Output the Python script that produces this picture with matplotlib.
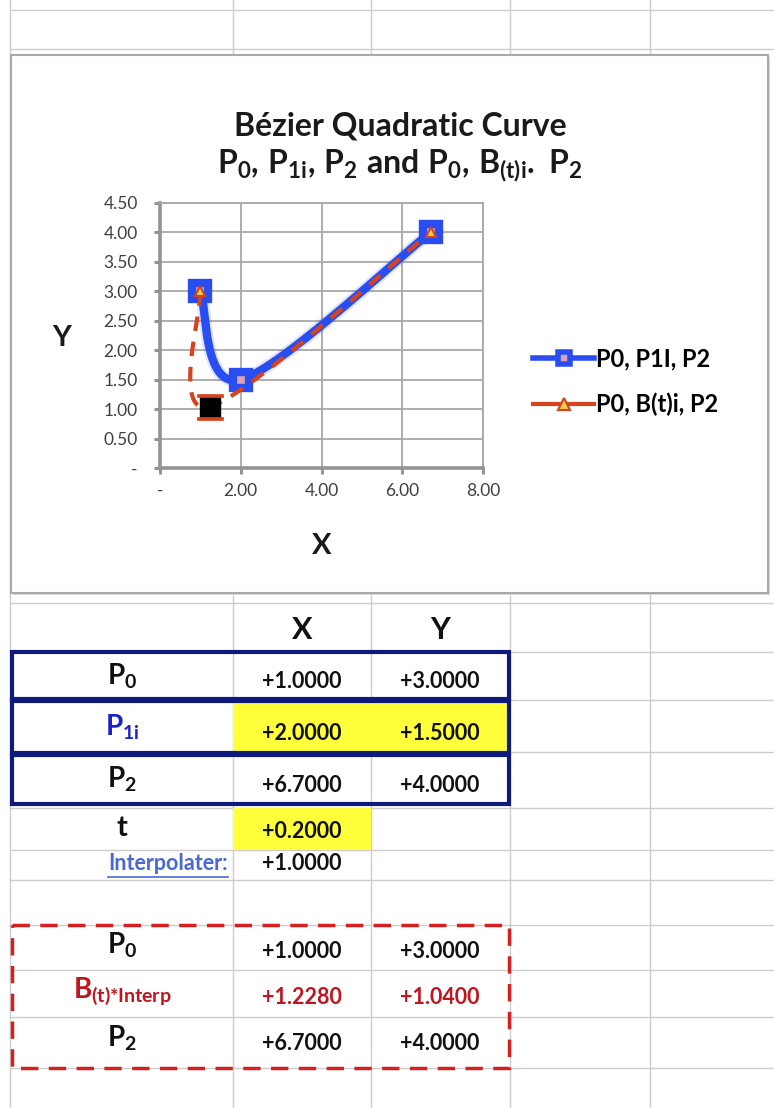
import matplotlib
matplotlib.use('Agg')
import matplotlib.pyplot as plt
from matplotlib.path import Path
from matplotlib.patches import Rectangle
from matplotlib.lines import Line2D
import numpy as np

plt.rcParams['font.family'] = ['Lato', 'DejaVu Sans']
plt.rcParams['mathtext.fontset'] = 'custom'
plt.rcParams['mathtext.rm'] = 'Lato:bold'
plt.rcParams['mathtext.bf'] = 'Lato:bold'
plt.rcParams['mathtext.it'] = 'Lato:bold'

# data
series_names = ['P0, P1I, P2', 'P0, B(t)i, P2']
control_x = [1.0, 2.0, 6.7]
control_y = [3.0, 1.5, 4.0]
bezier_x = [1.0, 1.228, 6.7]
bezier_y = [3.0, 1.04, 4.0]
t_value = 0.2
interpolater = 1.0

x_ticks = [0, 2, 4, 6, 8]
x_ticklabels = ['-', '2.00', '4.00', '6.00', '8.00']
y_ticks = [0, 0.5, 1.0, 1.5, 2.0, 2.5, 3.0, 3.5, 4.0, 4.5]
y_ticklabels = ['-', '0.50', '1.00', '1.50', '2.00', '2.50', '3.00', '3.50', '4.00', '4.50']

blue = '#2a4df2'
red = '#d6431c'
W, H = 774, 1108


def excel_smooth(xs, ys, n=80):
    # bezier smoothing like excel "smoothed line"
    p = np.column_stack([xs, ys])
    out = []
    for i in range(len(p) - 1):
        p0 = p[max(i - 1, 0)]
        p1 = p[i]
        p2 = p[i + 1]
        p3 = p[min(i + 2, len(p) - 1)]
        c1 = p1 + (p2 - p0) / 6
        c2 = p2 - (p3 - p1) / 6
        t = np.linspace(0, 1, n)[:, None]
        seg = (1 - t)**3 * p1 + 3 * (1 - t)**2 * t * c1 + 3 * (1 - t) * t**2 * c2 + t**3 * p2
        out.append(seg if i == 0 else seg[1:])
    return np.vstack(out)


fig = plt.figure(figsize=(W / 100, H / 100), dpi=100)
bg = fig.add_axes([0, 0, 1, 1])
bg.set_xlim(0, W)
bg.set_ylim(H, 0)
bg.axis('off')

# spreadsheet grid
grid_c = '#cccccc'
for gx in [10, 233, 371, 510, 650]:
    bg.plot([gx, gx], [0, H], color=grid_c, lw=1, zorder=1)
for gy in [10, 49, 603, 652, 700, 752, 808, 850, 880, 925, 970, 1017, 1068]:
    bg.plot([10, W], [gy, gy], color=grid_c, lw=1, zorder=1)

# chart box
bg.add_patch(Rectangle((13, 57), 757, 538, facecolor='#dddddd', edgecolor='none', zorder=4))
bg.add_patch(Rectangle((11, 55), 757, 538, facecolor='white', edgecolor='#a8a8a8', lw=1.5, zorder=5))

bg.text(400, 126, 'Bézier Quadratic Curve', ha='center', va='center', fontsize=23,
        fontweight='bold', color='#1a1a1a', zorder=6)
bg.text(400, 166, r'$\mathbf{P_0{,}\ P_{1i}{,}\ P_2\ and\ P_0{,}\ B_{(t)i}{.}\ P_2}$', ha='center',
        va='center', fontsize=23, color='#1a1a1a', zorder=6)
bg.text(62, 338, 'Y', ha='center', va='center', fontsize=21, fontweight='bold', color='#1a1a1a', zorder=6)
bg.text(322, 546, 'X', ha='center', va='center', fontsize=21, fontweight='bold', color='#1a1a1a', zorder=6)

# yellow cells
bg.add_patch(Rectangle((233, 700), 277, 52, facecolor='#ffff3c', edgecolor='none', zorder=2))
bg.add_patch(Rectangle((233, 808), 138, 42, facecolor='#ffff3c', edgecolor='none', zorder=2))

# blue boxes
navy = '#0f1a7d'
for top, h in [(652, 47), (701, 52), (755, 49)]:
    bg.add_patch(Rectangle((12, top), 497, h, fill=False, edgecolor=navy, lw=3, zorder=3))

# red dashed box
bg.add_patch(Rectangle((12, 925), 497, 143, fill=False, edgecolor='#d42020', lw=2.5,
                       linestyle=(0, (5, 3)), zorder=3))

col_lab, col_x, col_y = 122, 302, 440
bg.text(col_x, 630, 'X', ha='center', va='center', fontsize=22, fontweight='bold', color='#111111')
bg.text(col_y, 630, 'Y', ha='center', va='center', fontsize=22, fontweight='bold', color='#111111')

val_fs = 15.5
top_rows = [
    (r'$\mathbf{P_0}$', control_x[0], control_y[0], 679, '#111111', '#111111'),
    (r'$\mathbf{P_{1i}}$', control_x[1], control_y[1], 730, '#1a22c8', '#111111'),
    (r'$\mathbf{P_2}$', control_x[2], control_y[2], 782, '#111111', '#111111'),
]
bottom_rows = [
    (r'$\mathbf{P_0}$', bezier_x[0], bezier_y[0], 948, '#111111', '#111111'),
    (r'$\mathbf{B_{(t){*}Interp}}$', bezier_x[1], bezier_y[1], 995, '#c0141e', '#c0141e'),
    (r'$\mathbf{P_2}$', bezier_x[2], bezier_y[2], 1041, '#111111', '#111111'),
]
for lab, vx, vy, yy, lc, vc in top_rows + bottom_rows:
    bg.text(col_lab, yy - 3, lab, ha='center', va='center', fontsize=20, color=lc)
    bg.text(col_x, yy + 3, '{:+.4f}'.format(vx), ha='center', va='center', fontsize=val_fs,
            fontweight='bold', color=vc)
    bg.text(col_y, yy + 3, '{:+.4f}'.format(vy), ha='center', va='center', fontsize=val_fs,
            fontweight='bold', color=vc)

bg.text(col_lab, 828, 't', ha='center', va='center', fontsize=21, fontweight='bold', color='#111111')
bg.text(col_x, 831, '{:+.4f}'.format(t_value), ha='center', va='center', fontsize=val_fs,
        fontweight='bold', color='#111111')
link = bg.text(228, 864, 'Interpolater:', ha='right', va='center', fontsize=15.5, fontweight='bold',
               color='#4a68d6')
bg.text(col_x, 864, '{:+.4f}'.format(interpolater), ha='center', va='center', fontsize=val_fs,
        fontweight='bold', color='#111111')

# underline the link text
fig.canvas.draw()
bb = link.get_window_extent().transformed(bg.transData.inverted())
bg.plot([bb.x0, bb.x1], [877, 877], color='#4a68d6', lw=1.2)

# chart axes
x0, x1, y0, y1 = 160, 483, 468, 203
ax = fig.add_axes([x0 / W, 1 - y0 / H, (x1 - x0) / W, (y0 - y1) / H])
ax.set_facecolor('none')
ax.set_xlim(0, 8)
ax.set_ylim(0, 4.5)
ax.set_xticks(x_ticks)
ax.set_xticklabels(x_ticklabels)
ax.set_yticks(y_ticks)
ax.set_yticklabels(y_ticklabels)
ax.grid(True, color='#a8a8a8', lw=1.3)
ax.set_axisbelow(True)
for s in ['left', 'bottom']:
    ax.spines[s].set_color('#939393')
    ax.spines[s].set_linewidth(2.6)
for s in ['top', 'right']:
    ax.spines[s].set_color('#a8a8a8')
    ax.spines[s].set_linewidth(1.3)
ax.tick_params(axis='both', length=4, width=2.2, color='#939393', labelcolor='#404040',
               labelsize=12.5, direction='out')
ax.tick_params(axis='y', pad=12)
ax.tick_params(axis='x', pad=7)

c1 = excel_smooth(control_x, control_y)
ax.plot(c1[:, 0], c1[:, 1], color=blue, lw=9, alpha=0.15, solid_capstyle='round', zorder=3, clip_on=False)
ax.plot(c1[:, 0], c1[:, 1], color=blue, lw=6, solid_capstyle='round', zorder=3, clip_on=False)
ax.plot(control_x, control_y, linestyle='none', marker='s', ms=12, mew=6, mfc='#d9a3b3', mec=blue,
        zorder=4, clip_on=False)

c2 = excel_smooth(bezier_x, bezier_y)
ax.plot(c2[:, 0], c2[:, 1], color=red, lw=3, dashes=(3.5, 2.6), zorder=5, clip_on=False)
ax.plot(bezier_x, bezier_y, linestyle='none', marker='^', ms=7, mew=1.5, mfc='#e8d050', mec=red,
        markevery=[0, 2], zorder=6, clip_on=False)

bars = Path([(-1, 0.78), (1, 0.78), (1, 1), (-1, 1), (-1, 0.78),
             (-1, -1), (1, -1), (1, -0.78), (-1, -0.78), (-1, -1)],
            [Path.MOVETO, Path.LINETO, Path.LINETO, Path.LINETO, Path.CLOSEPOLY] * 2)
ax.plot(bezier_x[1], bezier_y[1], linestyle='none', marker='s', ms=15, mfc='black', mec='black',
        zorder=6, clip_on=False)
ax.plot(bezier_x[1], bezier_y[1], linestyle='none', marker=bars, ms=19, mfc=red, mec=red, mew=0.5,
        zorder=7, clip_on=False)

# legend
h1 = Line2D([], [], color=blue, lw=4, marker='s', ms=9, mew=4, mfc='#d9a3b3', mec=blue)
h2 = Line2D([], [], color=red, lw=3, marker='^', ms=8, mew=1.5, mfc='#e8d050', mec=red)
ax.legend([h1, h2], series_names, loc='center left', bbox_to_anchor=(533 / W, 1 - 382 / H),
          bbox_transform=fig.transFigure, frameon=False, handlelength=2.6, handletextpad=0.05,
          borderpad=0, borderaxespad=0, labelspacing=0.95, prop={'weight': 'bold', 'size': 17})

fig.savefig('out.png', dpi=100)
